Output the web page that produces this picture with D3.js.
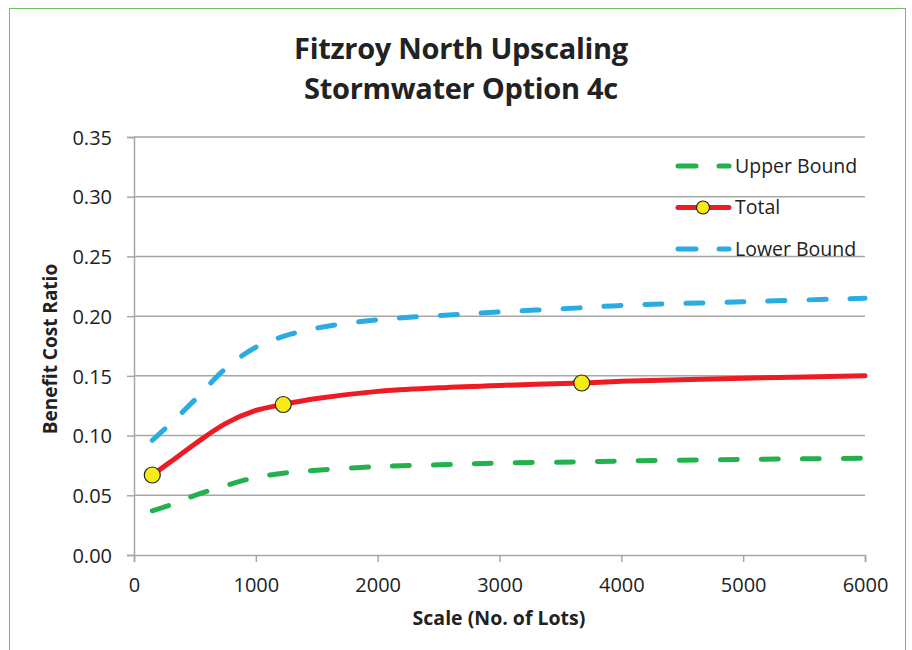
<!DOCTYPE html>
<html>
<head>
<meta charset="utf-8">
<script src="https://cdn.jsdelivr.net/npm/d3@7"></script>
<style>
body { margin: 0; background: #fff; }
text { font-family: "Open Sans", sans-serif; fill: #222; }
</style>
</head>
<body>
<div id="chart"></div>
<script>
// values
var lots = [150, 300, 500, 750, 1000, 1225, 1500, 2000, 2500, 3000, 3675, 4000, 5000, 6000];
var upperBound = [0.037, 0.042, 0.050, 0.058, 0.065, 0.0685, 0.071, 0.074, 0.0755, 0.077, 0.078, 0.0787, 0.080, 0.081];
var total = [0.067, 0.078, 0.093, 0.110, 0.121, 0.126, 0.131, 0.137, 0.140, 0.142, 0.144, 0.1455, 0.148, 0.150];
var lowerBound = [0.096, 0.110, 0.130, 0.156, 0.174, 0.183, 0.190, 0.197, 0.2005, 0.2035, 0.207, 0.209, 0.212, 0.215];
var totalMarkers = [150, 1225, 3675];
var xTicks = [0, 1000, 2000, 3000, 4000, 5000, 6000];
var yTicks = [0, 0.05, 0.10, 0.15, 0.20, 0.25, 0.30, 0.35];
var titleLines = ["Fitzroy North Upscaling", "Stormwater Option 4c"];

var svgWidth = 912, svgHeight = 650;
var margin = {top: 137, right: 47, bottom: 95, left: 134};
var width = svgWidth - margin.left - margin.right;
var height = svgHeight - margin.top - margin.bottom;

var svg = d3.select("#chart").append("svg")
	.attr("width", svgWidth)
	.attr("height", svgHeight);

// chart frame
svg.append("rect")
	.attr("x", 9.5).attr("y", 8.5)
	.attr("width", 896).attr("height", 660)
	.attr("fill", "none")
	.attr("stroke", "#6cc35c")
	.attr("stroke-width", 1);

var chartGroup = svg.append("g")
	.attr("transform", `translate(${margin.left}, ${margin.top})`);

var x = d3.scaleLinear().domain([0, 6000]).range([0, width]);
var y = d3.scaleLinear().domain([0, 0.35]).range([height, 0]);

// gridlines
chartGroup.append("g")
	.selectAll("line")
	.data(yTicks.slice(1))
	.enter()
	.append("line")
	.attr("x1", 0).attr("x2", width)
	.attr("y1", d => y(d)).attr("y2", d => y(d))
	.attr("stroke", "#a6a6a6")
	.attr("stroke-width", 1.5);

var leftAxis = d3.axisLeft(y).tickValues(yTicks).tickFormat(d3.format(".2f")).tickSize(7).tickPadding(15);
var bottomAxis = d3.axisBottom(x).tickValues(xTicks).tickFormat(d3.format("d")).tickSize(7).tickPadding(14);

var yAxis = chartGroup.append("g").call(leftAxis);
var xAxis = chartGroup.append("g")
	.attr("transform", `translate(0, ${height})`)
	.call(bottomAxis);

[xAxis, yAxis].forEach(function(ax) {
	ax.select(".domain").attr("stroke", "#a6a6a6").attr("stroke-width", 1.5);
	ax.selectAll(".tick line").attr("stroke", "#a6a6a6").attr("stroke-width", 1.5);
	ax.selectAll(".tick text")
		.style("font-family", "'Open Sans', sans-serif")
		.style("font-size", "20px")
		.attr("fill", "#222");
});
yAxis.selectAll(".tick text").attr("dy", "0.36em");
xAxis.selectAll(".tick text").attr("dy", "0.78em");

var line = d3.line()
	.x(d => x(d[0]))
	.y(d => y(d[1]))
	.curve(d3.curveCatmullRom.alpha(0.5));

var series = [
	{name: "Upper Bound", values: upperBound, color: "#22b14c", dash: "17,24"},
	{name: "Total", values: total, color: "#ed1c24", dash: null},
	{name: "Lower Bound", values: lowerBound, color: "#2aabe2", dash: "17,24"}
];

series.forEach(function(s) {
	chartGroup.append("path")
		.datum(lots.map((l, i) => [l, s.values[i]]))
		.attr("d", line)
		.attr("fill", "none")
		.attr("stroke", s.color)
		.attr("stroke-width", 5)
		.attr("stroke-linecap", "round")
		.attr("stroke-dasharray", s.dash);
});

// markers on total line
chartGroup.selectAll("circle.marker")
	.data(totalMarkers)
	.enter()
	.append("circle")
	.attr("class", "marker")
	.attr("cx", d => x(d))
	.attr("cy", d => y(total[lots.indexOf(d)]))
	.attr("r", 8)
	.attr("fill", "#f5eb17")
	.attr("stroke", "#222")
	.attr("stroke-width", 1.2);

// legend
var legend = svg.append("g").attr("transform", "translate(676, 166)");
series.forEach(function(s, i) {
	var g = legend.append("g").attr("transform", `translate(0, ${i * 41.5})`);
	if (s.dash) {
		g.append("line").attr("x1", 2).attr("x2", 20).attr("y1", 0).attr("y2", 0)
			.attr("stroke", s.color).attr("stroke-width", 5).attr("stroke-linecap", "round");
		g.append("line").attr("x1", 43).attr("x2", 53).attr("y1", 0).attr("y2", 0)
			.attr("stroke", s.color).attr("stroke-width", 5).attr("stroke-linecap", "round");
	} else {
		g.append("line").attr("x1", 2).attr("x2", 53).attr("y1", 0).attr("y2", 0)
			.attr("stroke", s.color).attr("stroke-width", 5).attr("stroke-linecap", "round");
		g.append("circle").attr("cx", 27).attr("cy", 0).attr("r", 6.5)
			.attr("fill", "#f5eb17").attr("stroke", "#222").attr("stroke-width", 1.2);
	}
	g.append("text")
		.attr("x", 59).attr("y", 0).attr("dy", "0.35em")
		.style("font-size", "19.5px")
		.text(s.name);
});

// title
svg.append("g").selectAll("text")
	.data(titleLines)
	.enter()
	.append("text")
	.attr("x", 461)
	.attr("y", (d, i) => 59 + i * 40)
	.attr("text-anchor", "middle")
	.style("font-size", "29px")
	.style("font-weight", "bold")
	.attr("letter-spacing", "-0.3")
	.text(d => d);

// axis titles
svg.append("text")
	.attr("x", 499).attr("y", 625)
	.attr("text-anchor", "middle")
	.style("font-size", "19.5px")
	.style("font-weight", "bold")
	.text("Scale (No. of Lots)");

svg.append("text")
	.attr("transform", "translate(57, 349) rotate(-90)")
	.attr("text-anchor", "middle")
	.style("font-size", "19px")
	.style("font-weight", "bold")
	.text("Benefit Cost Ratio");
</script>
</body>
</html>
